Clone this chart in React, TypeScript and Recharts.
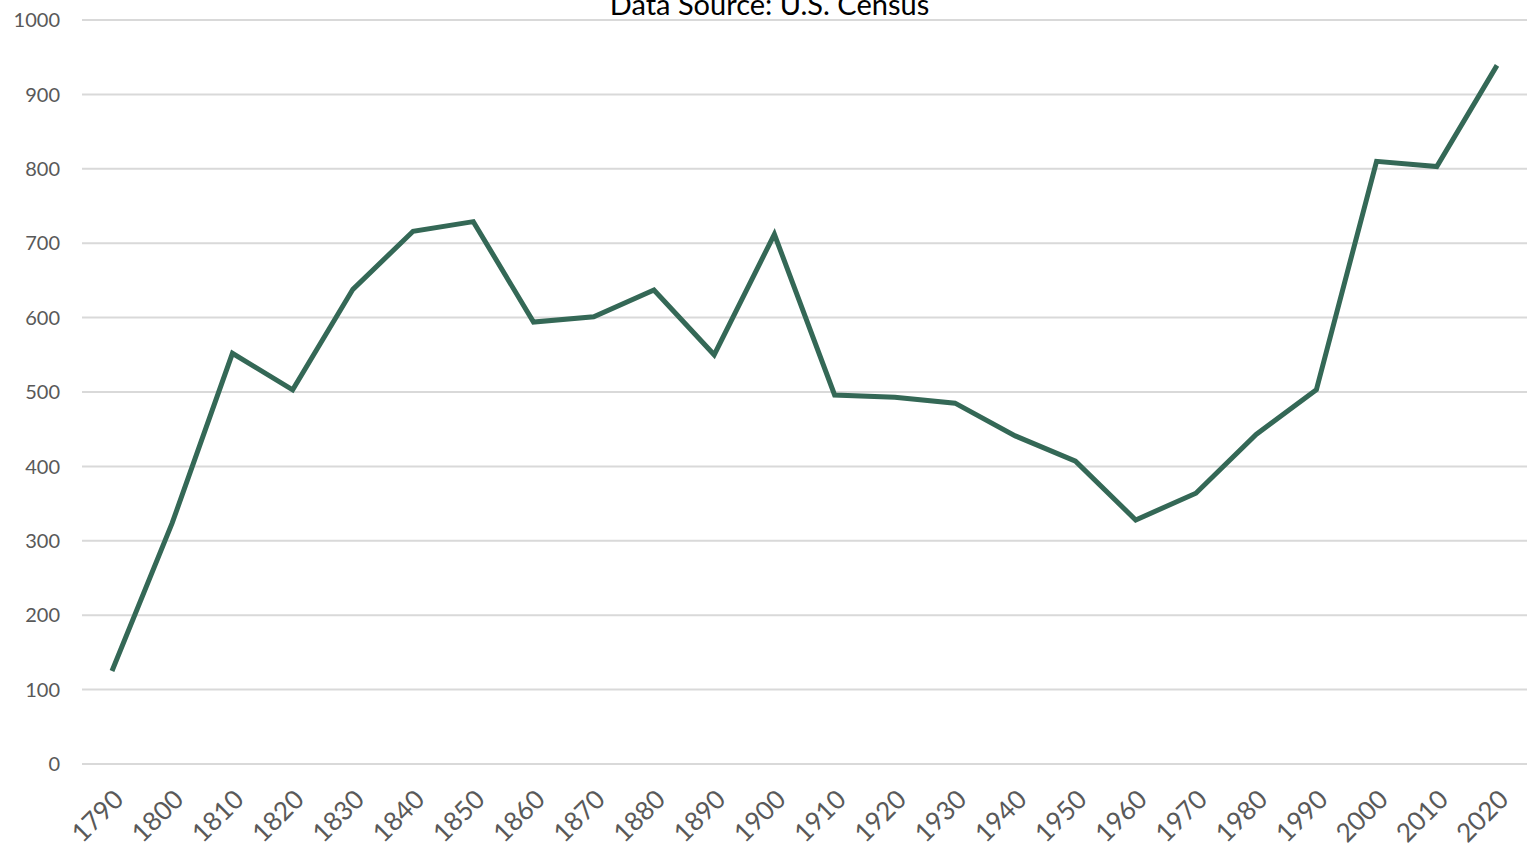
import React from 'react';
import { LineChart, Line, XAxis, YAxis, CartesianGrid } from 'recharts';

const years = ['1790','1800','1810','1820','1830','1840','1850','1860','1870','1880','1890','1900','1910','1920','1930','1940','1950','1960','1970','1980','1990','2000','2010','2020'];
const values = [125,324,552,503,638,716,729,594,601,637,550,712,496,493,485,441,407,328,364,443,503,810,803,939];
const yTicks = [0,100,200,300,400,500,600,700,800,900,1000];
const title = 'Data Source: U.S. Census';

const data = years.map((y, i) => ({ year: y, value: values[i] }));
const FONT = 'Lato, "Open Sans", sans-serif';

export default function App() {
  return (
    <div style={{ position: 'absolute', left: 0, top: 0, width: 1539, height: 847, background: '#fff', overflow: 'hidden' }}>
      <LineChart width={1539} height={847} data={data} margin={{ top: 20, right: 12, bottom: 0, left: 0 }}>
        <CartesianGrid vertical={false} stroke="#d9d9d9" strokeWidth={2} />
        <XAxis dataKey="year" axisLine={false} tickLine={false} tickSize={0} tickMargin={24} height={83}
          padding={{ left: 30, right: 30 }} interval={0} angle={-45} textAnchor="end"
          tick={{ fill: '#595959', fontSize: 26, fontFamily: FONT }} />
        <YAxis domain={[0, 1000]} ticks={yTicks} axisLine={false} tickLine={false} tickSize={0} tickMargin={22} width={82}
          tick={{ fill: '#595959', fontSize: 20, fontFamily: FONT }} />
        <Line type="linear" dataKey="value" stroke="#346856" strokeWidth={5} dot={false} isAnimationActive={false} />
      </LineChart>
      <div style={{ position: 'absolute', left: 0, width: 1539, top: -14, textAlign: 'center', fontFamily: FONT, fontSize: 29, lineHeight: '36px', color: '#000' }}>{title}</div>
    </div>
  );
}
